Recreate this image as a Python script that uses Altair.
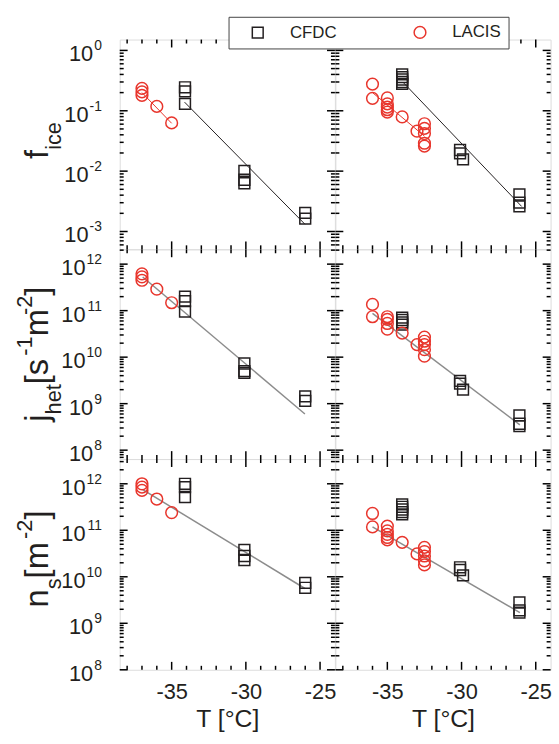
import altair as alt
import pandas as pd
import numpy as np

FONT = "Liberation Sans"
INK = "#231f20"
RED = "#e8352c"
GRAY = "#8c8c8c"

# ---------------- data ----------------
# Row 1: f_ice
fice_left_cfdc_T = [-34.1, -34.1, -34.1, -30.1, -30.1, -30.1, -26.0, -26.0]
fice_left_cfdc_v = [0.245, 0.21, 0.13, 0.0101, 0.0072, 0.0063, 0.00204, 0.00163]
fice_left_lacis_T = [-37.0, -37.0, -37.0, -36.0, -35.0]
fice_left_lacis_v = [0.235, 0.205, 0.18, 0.118, 0.063]
fice_right_cfdc_T = [-34.0, -34.0, -34.0, -34.0, -34.0, -30.1, -30.1, -29.9, -26.1, -26.1, -26.1]
fice_right_cfdc_v = [0.40, 0.36, 0.33, 0.30, 0.28, 0.0224, 0.0197, 0.0157, 0.0041, 0.0030, 0.0026]
fice_right_lacis_T = [-36.0, -36.0, -35.0, -35.0, -35.0, -35.0, -35.0, -34.0, -33.0,
                      -32.5, -32.5, -32.5, -32.5, -32.5]
fice_right_lacis_v = [0.277, 0.161, 0.163, 0.130, 0.115, 0.104, 0.095, 0.079, 0.046,
                      0.061, 0.051, 0.042, 0.029, 0.026]

# Row 2: j_het
jhet_left_cfdc_T = [-34.1, -34.1, -34.1, -30.1, -30.1, -30.1, -26.0, -26.0]
jhet_left_cfdc_v = [2.0e11, 1.6e11, 9.6e10, 7.3e9, 5.0e9, 4.6e9, 1.43e9, 1.15e9]
jhet_left_lacis_T = [-37.0, -37.0, -37.0, -36.0, -35.0]
jhet_left_lacis_v = [6.2e11, 5.3e11, 4.5e11, 2.9e11, 1.48e11]
jhet_right_cfdc_T = [-34.0, -34.0, -34.0, -34.0, -30.1, -30.1, -29.9, -26.1, -26.1, -26.1]
jhet_right_cfdc_v = [7.1e10, 6.3e10, 5.6e10, 5.0e10, 3.1e9, 2.7e9, 2.0e9, 5.6e8, 3.7e8, 3.3e8]
jhet_right_lacis_T = [-36.0, -36.0, -35.0, -35.0, -35.0, -35.0, -34.0, -33.0,
                      -32.5, -32.5, -32.5, -32.5, -32.5]
jhet_right_lacis_v = [1.36e11, 7.4e10, 7.4e10, 6.5e10, 5.3e10, 4.0e10, 3.3e10, 1.86e10,
                      2.7e10, 2.2e10, 1.86e10, 1.45e10, 1.05e10]

# Row 3: n_s
ns_left_cfdc_T = [-34.1, -34.1, -34.1, -30.1, -30.1, -30.1, -26.0, -26.0]
ns_left_cfdc_v = [1.0e12, 8.5e11, 5.2e11, 3.8e10, 2.8e10, 2.3e10, 7.4e9, 5.8e9]
ns_left_lacis_T = [-37.0, -37.0, -37.0, -36.0, -35.0]
ns_left_lacis_v = [1.0e12, 8.5e11, 7.2e11, 4.7e11, 2.4e11]
ns_right_cfdc_T = [-34.0, -34.0, -34.0, -34.0, -34.0, -30.1, -30.1, -29.9, -26.1, -26.1, -26.1]
ns_right_cfdc_v = [3.6e11, 3.2e11, 2.8e11, 2.45e11, 2.2e11, 1.6e10, 1.4e10, 1.07e10,
                   2.8e9, 1.9e9, 1.7e9]
ns_right_lacis_T = [-36.0, -36.0, -35.0, -35.0, -35.0, -35.0, -35.0, -34.0, -33.0,
                    -32.5, -32.5, -32.5, -32.5, -32.5]
ns_right_lacis_v = [2.3e11, 1.18e11, 1.23e11, 9.7e10, 8.2e10, 7.0e10, 6.2e10, 5.5e10, 3.1e10,
                    4.3e10, 3.5e10, 2.8e10, 2.2e10, 1.8e10]

# fit lines (end points)
fice_left_fit_T, fice_left_fit_v = [-34.13, -26.02], [0.139, 0.00132]
fice_left_red_T, fice_left_red_v = [-37.0, -35.0], [0.20, 0.062]
fice_right_fit_T, fice_right_fit_v = [-33.95, -25.95], [0.298, 0.0026]
fice_right_red_T, fice_right_red_v = [-36.0, -32.5], [0.20, 0.038]
jhet_left_fit_T, jhet_left_fit_v = [-36.95, -26.02], [5.3e11, 6.0e8]
jhet_right_fit_T, jhet_right_fit_v = [-36.0, -26.07], [8.7e10, 3.5e8]
ns_left_fit_T, ns_left_fit_v = [-36.95, -26.02], [7.5e11, 5.6e9]
ns_right_fit_T, ns_right_fit_v = [-36.0, -26.07], [1.18e11, 1.7e9]

instruments = ["CFDC", "LACIS"]
x_labels = [-35, -30, -25]
x_ticks = list(range(-38, -24))
x_domain = [-38.5, -24.0]
y_domains = [[10 ** -3.295, 10 ** 0.18], [10 ** 7.809, 10 ** 12.319], [1e8, 10 ** 12.532]]
y_decades = [[-3, -2, -1, 0], [8, 9, 10, 11, 12], [8, 9, 10, 11, 12]]
y_titles = [
    [("f", "main"), ("ice", "sub")],
    [("j", "main"), ("het", "sub"), (" [s", "main"), ("-1", "sup"), ("m", "main"),
     ("-2", "sup"), ("]", "main")],
    [("n", "main"), ("s", "sub"), (" [m", "main"), ("-2", "sup"), ("]", "main")],
]

# ---------------- layout / style ----------------
W = 217.5
HEIGHTS = [212, 212, 213]
TITLE_CENTER = [102, 106, 101]
MAIN_FS, SMALL_FS = 33, 22
BASE_X, SUB_SHIFT, SUP_SHIFT = -72, 13, -17
SUP_KERN = 6
MAJOR_LEN, MINOR_LEN = 8, 4
ADV = {"f": .278, "i": .222, "c": .5, "e": .556, "j": .222, "h": .556, "t": .278,
       " ": .278, "[": .278, "]": .278, "s": .5, "m": .833, "n": .556, "-": .333,
       "1": .556, "2": .556}

LEG = alt.Legend(title=None, orient="none", legendX=110, legendY=-23, direction="horizontal",
                 padding=7, symbolOffset=14, labelOffset=24, columnPadding=61,
                 labelFont=FONT, labelFontSize=17, labelColor=INK, symbolSize=125,
                 symbolStrokeWidth=1.5, strokeColor="#444", fillColor="white")


def xenc(field, bottom):
    sc = alt.Scale(domain=x_domain, nice=False, zero=False)
    if bottom:
        ax = alt.Axis(values=x_labels, labelExpr="'' + datum.value", ticks=False, tickSize=0,
                      domain=False, grid=False, labelFont=FONT, labelFontSize=22,
                      labelColor=INK, labelPadding=12, title="T [°C]", titleFont=FONT,
                      titleFontSize=25, titleFontWeight="normal", titleColor=INK,
                      titlePadding=4)
        return alt.X(field, type="quantitative", scale=sc, axis=ax)
    return alt.X(field, type="quantitative", scale=sc, axis=None)


def yenc(field, r):
    return alt.Y(field, type="quantitative",
                 scale=alt.Scale(type="log", domain=y_domains[r], nice=False), axis=None)


def tick_segments(r):
    """Short inward tick segments on all four sides, expressed in data units."""
    lo, hi = y_domains[r]
    H = HEIGHTS[r]
    x0, x1 = x_domain
    px_per_deg = W / (x1 - x0)
    px_per_dec = H / np.log10(hi / lo)
    rows = []
    sid = 0
    for k in range(int(np.floor(np.log10(lo))), int(np.ceil(np.log10(hi))) + 1):
        for m in range(1, 10):
            v = float(m * 10.0 ** k)
            if not (lo <= v <= hi):
                continue
            L = MAJOR_LEN if m == 1 else MINOR_LEN
            d = L / px_per_deg
            for a, b in [(x0, x0 + d), (x1, x1 - d)]:
                rows += [{"id": f"s{sid}", "T": float(a), "v": v},
                         {"id": f"s{sid}", "T": float(b), "v": v}]
                sid += 1
    for t in x_ticks:
        L = MAJOR_LEN if t % 5 == 0 else MINOR_LEN
        f = 10 ** (L / px_per_dec)
        for a, b in [(lo, lo * f), (hi, hi / f)]:
            rows += [{"id": f"s{sid}", "T": float(t), "v": float(a)},
                     {"id": f"s{sid}", "T": float(t), "v": float(b)}]
            sid += 1
    return pd.DataFrame(rows)


def panel(r, c, cfdc_T, cfdc_v, lacis_T, lacis_v, lines):
    H = HEIGHTS[r]
    bottom = r == 2
    layers = []
    # inward ticks on all four sides (drawn first)
    layers.append(alt.Chart(tick_segments(r)).mark_line(color="#000000", strokeWidth=1.5,
                                                        opacity=1).encode(
        x=xenc("T", bottom), y=yenc("v", r), detail="id:N"))
    for T, v, col, sw in lines:
        ldf = pd.DataFrame({"T": T, "v": v})
        layers.append(alt.Chart(ldf).mark_line(color=col, strokeWidth=sw)
                      .encode(x=xenc("T", bottom), y=yenc("v", r)))
    pdf = pd.concat([
        pd.DataFrame({"T": cfdc_T, "v": cfdc_v, "inst": "CFDC"}),
        pd.DataFrame({"T": lacis_T, "v": lacis_v, "inst": "LACIS"}),
    ])
    layers.append(alt.Chart(pdf).mark_point(filled=False, strokeWidth=1.5, opacity=1).encode(
        x=xenc("T", bottom), y=yenc("v", r),
        color=alt.Color("inst:N", scale=alt.Scale(domain=instruments, range=[INK, RED]), legend=LEG),
        shape=alt.Shape("inst:N", scale=alt.Scale(domain=instruments, range=["square", "circle"]), legend=LEG),
        size=alt.Size("inst:N", scale=alt.Scale(domain=instruments, range=[120, 140]), legend=None),
    ))
    if c == 0:
        ldf = pd.DataFrame({"v": [10.0 ** d for d in y_decades[r]],
                            "e": [str(d) for d in y_decades[r]]})
        base = alt.Chart(ldf).transform_calculate(
            ew="length(replace(datum.e, '-', '')) * 7.8 + (indexof(datum.e, '-') >= 0 ? 4.7 : 0)"
        ).transform_calculate(bx="-19 - datum.ew")
        layers.append(base.mark_text(text="10", align="right", baseline="alphabetic", dy=11,
                                     font=FONT, fontSize=22, color=INK)
                      .encode(x=alt.X("bx:Q", scale=None), y=yenc("v", r)))
        layers.append(base.mark_text(align="right", baseline="alphabetic", dy=0,
                                     font=FONT, fontSize=14, color=INK)
                      .encode(x=alt.value(-18), y=yenc("v", r), text="e:N"))
        # rotated y title, composed of main / subscript / superscript pieces
        pieces = y_titles[r]
        widths = [sum(ADV[ch] for ch in t) * (MAIN_FS if k == "main" else SMALL_FS) for t, k in pieces]
        total = sum(widths) - SUP_KERN * sum(1 for _, k in pieces if k == "sup")
        y0 = TITLE_CENTER[r] + total / 2
        one = pd.DataFrame({"k": [0]})
        for (t, k), w in zip(pieces, widths):
            fs = MAIN_FS if k == "main" else SMALL_FS
            bx = BASE_X + (SUB_SHIFT if k == "sub" else SUP_SHIFT if k == "sup" else 0)
            if k == "sup":
                y0 += SUP_KERN
            layers.append(alt.Chart(one).mark_text(text=t, angle=270, align="left",
                                                   baseline="alphabetic", font=FONT,
                                                   fontSize=fs, color=INK)
                          .encode(x=alt.value(bx), y=alt.value(y0)))
            y0 -= w
        if r == 0:
            layers.append(alt.Chart(one).mark_rect(color="white", opacity=1).encode(
                x=alt.value(-115), x2=alt.value(-114), y=alt.value(-30), y2=alt.value(-29)))
    return alt.layer(*layers).properties(width=W, height=H)


cells = [
    panel(0, 0, fice_left_cfdc_T, fice_left_cfdc_v, fice_left_lacis_T, fice_left_lacis_v,
          [(fice_left_fit_T, fice_left_fit_v, INK, 1), (fice_left_red_T, fice_left_red_v, RED, 1)]),
    panel(0, 1, fice_right_cfdc_T, fice_right_cfdc_v, fice_right_lacis_T, fice_right_lacis_v,
          [(fice_right_fit_T, fice_right_fit_v, INK, 1), (fice_right_red_T, fice_right_red_v, RED, 1)]),
    panel(1, 0, jhet_left_cfdc_T, jhet_left_cfdc_v, jhet_left_lacis_T, jhet_left_lacis_v,
          [(jhet_left_fit_T, jhet_left_fit_v, GRAY, 1.5)]),
    panel(1, 1, jhet_right_cfdc_T, jhet_right_cfdc_v, jhet_right_lacis_T, jhet_right_lacis_v,
          [(jhet_right_fit_T, jhet_right_fit_v, GRAY, 1.5)]),
    panel(2, 0, ns_left_cfdc_T, ns_left_cfdc_v, ns_left_lacis_T, ns_left_lacis_v,
          [(ns_left_fit_T, ns_left_fit_v, GRAY, 1.5)]),
    panel(2, 1, ns_right_cfdc_T, ns_right_cfdc_v, ns_right_lacis_T, ns_right_lacis_v,
          [(ns_right_fit_T, ns_right_fit_v, GRAY, 1.5)]),
]

chart = alt.concat(*cells, columns=2, spacing=0, bounds="flush").configure_view(
    stroke=INK, strokeWidth=1.5
).configure(background="white", padding=5)

chart.save("out.html", embed_options={"renderer": "svg", "actions": False})
